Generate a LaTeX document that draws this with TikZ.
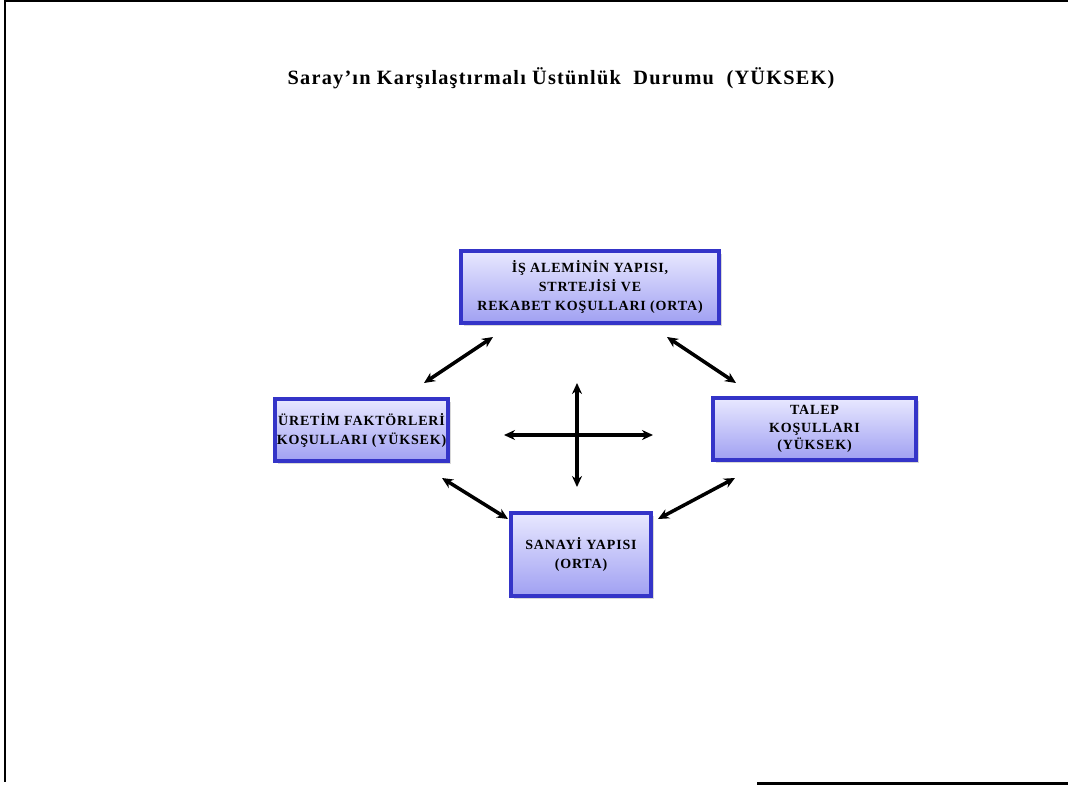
\documentclass[tikz,border=0pt]{standalone}
\usepackage{fontspec}
\setmainfont{Liberation Serif}
\newfontfamily\kutufont[LetterSpace=6]{Liberation Serif}
\usetikzlibrary{shadows,calc,arrows.meta}
\definecolor{kenar}{RGB}{52,52,200}
\definecolor{ustrenk}{RGB}{232,232,255}
\definecolor{altrenk}{RGB}{160,160,242}
\tikzset{
	kutu/.style={draw=kenar,line width=4pt,top color=ustrenk,bottom color=altrenk,
		drop shadow={shadow xshift=3pt,shadow yshift=-3pt,fill=black!30},
		align=center,inner sep=0pt,font=\kutufont\bfseries\fontsize{14}{19}\selectfont},
	ok/.style={{Stealth[length=11pt,width=10pt]}-{Stealth[length=11pt,width=10pt]},line width=3.5pt}
}
\begin{document}
\begin{tikzpicture}[x=1pt,y=-1pt]
		\useasboundingbox (0,0) rectangle (1068,787);
		% cerceve
		\draw[line width=2.5pt] (5,1) -- (1068,1);
		\draw[line width=2.5pt] (5,0) -- (5,782);
		\draw[line width=2.5pt] (757,783.5) -- (1068,783.5);
		\node[font=\kutufont\bfseries\fontsize{20.3}{24}\selectfont] (baslik) at (561,78) {Saray’ın Karşılaştırmalı Üstünlük\ \ Durumu\ \ (YÜKSEK)};
		% kutular
		\node[kutu,minimum width=258pt,minimum height=72pt] (isalemi) at (590,287) {İŞ ALEMİNİN YAPISI,\\STRTEJİSİ VE\\REKABET KOŞULLARI (ORTA)};
		\node[kutu,minimum width=173pt,minimum height=62pt] (uretim) at (361.5,430) {ÜRETİM FAKTÖRLERİ\\KOŞULLARI (YÜKSEK)};
		\node[kutu,minimum width=203pt,minimum height=62pt,font=\kutufont\bfseries\fontsize{14}{17.5}\selectfont] (talep) at (814.5,429) {TALEP\\KOŞULLARI\\(YÜKSEK)};
		\node[kutu,minimum width=140pt,minimum height=83pt] (sanayi) at (581,554.5) {SANAYİ YAPISI\\(ORTA)};
		% oklar
		\draw[ok] ($(isalemi.south west)+(34,12)$) -- ($(uretim.north east)+(-26,-14)$);
		\draw[ok] ($(isalemi.south east)+(-54,12)$) -- ($(talep.north west)+(25,-13)$);
		\draw[ok] ($(uretim.south east)+(-8,15)$) -- ($(sanayi.north west)+(-1,8)$);
		\draw[ok] ($(talep.south west)+(24,16)$) -- ($(sanayi.north east)+(5,8)$);
		% merkez
		\coordinate (merkez) at (577,435);
		\draw[ok] ($(merkez)+(0,-52)$) -- ($(merkez)+(0,52)$);
		\draw[ok] ($(merkez)+(-73,0)$) -- ($(merkez)+(76,0)$);
\end{tikzpicture}
\end{document}
